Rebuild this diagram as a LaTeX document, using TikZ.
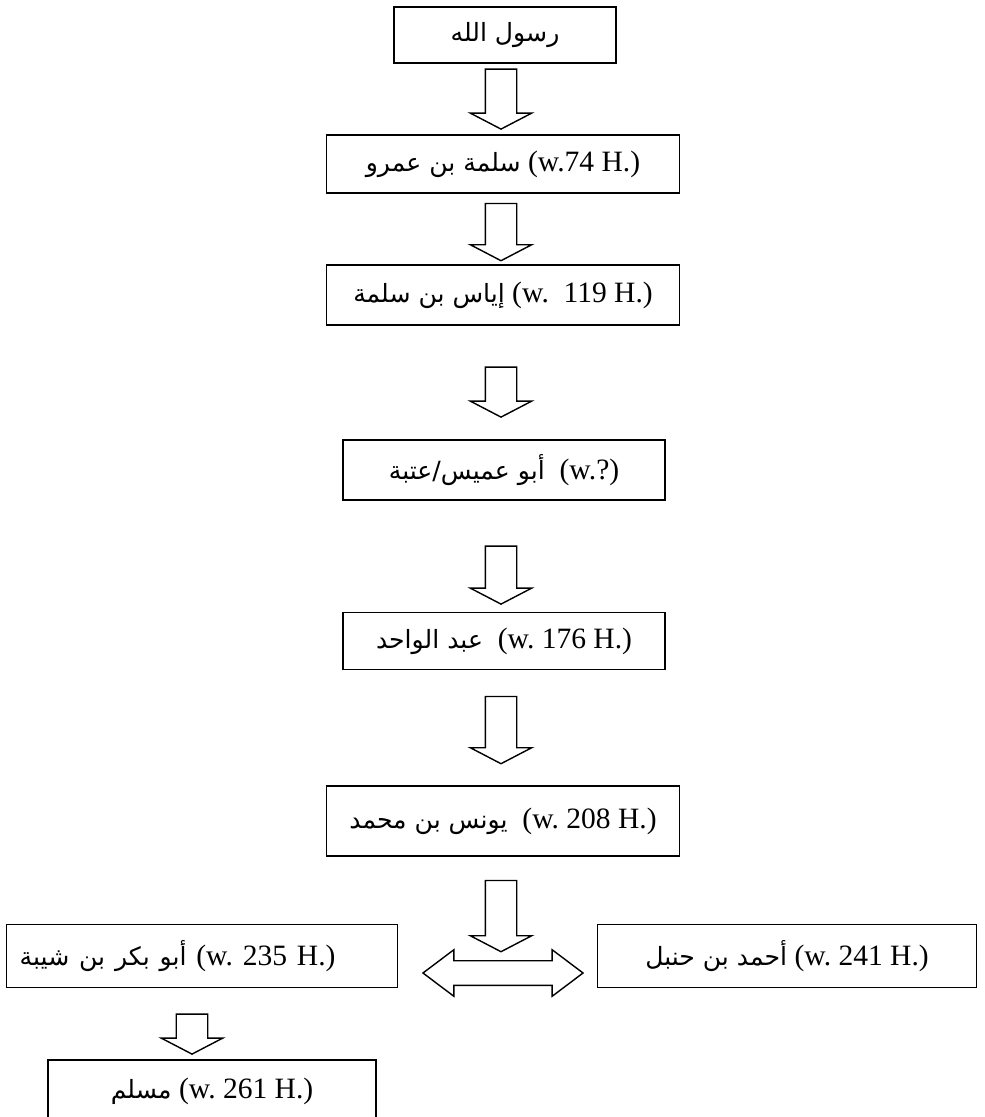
\documentclass[tikz,border=0pt]{standalone}
\usepackage{fontspec}
\setmainfont{Liberation Serif}
\newfontfamily\arabicfont[Script=Arabic,Scale=0.85]{DejaVu Sans}
\TeXXeTstate=1
\frenchspacing
\usetikzlibrary{shapes.arrows}
\newcommand{\arab}[1]{{\arabicfont\beginR #1\endR}}

\begin{document}
\begin{tikzpicture}[x=0.025cm, y=-0.025cm,
  box/.style={draw, line width=1pt, inner sep=0pt, font=\fontsize{21pt}{24pt}\selectfont},
  down/.style={single arrow, draw, line width=1pt, rotate=-90, inner xsep=0pt, inner ysep=0.375cm,
    single arrow head extend=0.375cm, single arrow tip angle=125},
  both/.style={double arrow, draw, line width=1pt, inner xsep=0pt, inner ysep=0.29cm,
    double arrow head extend=0.275cm, double arrow tip angle=74}]
\useasboundingbox (0,0) rectangle (985,1117);

\node[box, minimum width=5.55cm, minimum height=1.4cm] (rasul) at (505,35) {\arab{رسول الله}};
\node[box, minimum width=8.82cm, minimum height=1.45cm] (salama) at (503,164) {\arab{سلمة بن عمرو} (w.74 H.)};
\node[box, minimum width=8.82cm, minimum height=1.5cm] (iyas) at (503,295) {\arab{إياس بن سلمة} (w.\ \ 119 H.)};
\node[box, minimum width=8.05cm, minimum height=1.5cm] (umais) at (504,470) {\arab{أبو عميس/عتبة}\ \ (w.?)};
\node[box, minimum width=8.05cm, minimum height=1.43cm] (wahid) at (504,641) {\arab{عبد الواحد}\ \ (w. 176 H.)};
\node[box, minimum width=8.82cm, minimum height=1.75cm] (yunus) at (503,821) {\arab{يونس بن محمد}\ \ (w. 208 H.)};
\node[box, text width=9.115cm, align=left, inner xsep=0.33cm, minimum height=1.58cm] (abubakr) at (202,956) {\arab{أبو بكر بن شيبة} (w. 235 H.)};
\node[box, minimum width=9.48cm, minimum height=1.58cm] (ahmad) at (787,956) {\arab{أحمد بن حنبل} (w. 241 H.)};
\node[box, minimum width=8.2cm, minimum height=1.55cm] (muslim) at (212,1091) {\arab{مسلم} (w. 261 H.)};

\node[down, minimum height=1.5cm] (a1) at (501,95) {};
\node[down, minimum height=1.43cm] (a2) at (501,228) {};
\node[down, minimum height=1.25cm] (a3) at (501,388) {};
\node[down, minimum height=1.45cm] (a4) at (501,571) {};
\node[down, minimum height=1.68cm] (a5) at (501,726) {};
\node[down, minimum height=1.78cm] (a6) at (501,912) {};
\node[down, minimum height=1cm] (a7) at (192,1030) {};
\node[both, minimum height=4cm] (link) at (503,973) {};
\end{tikzpicture}
\end{document}
